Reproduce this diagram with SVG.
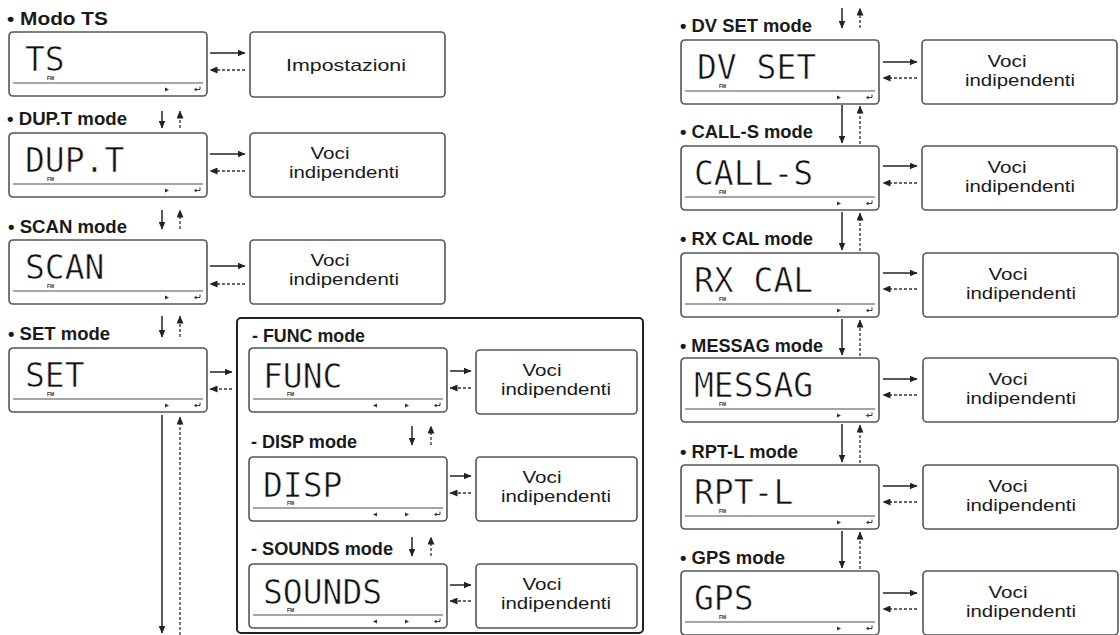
<svg xmlns="http://www.w3.org/2000/svg" width="1120" height="635" viewBox="0 0 1120 635">
<style>
.bg{fill:#fff}
.lcd{fill:#fff;stroke:#555;stroke-width:1.6}
.box{fill:#fff;stroke:#555;stroke-width:1.6}
.frame{fill:none;stroke:#222;stroke-width:2}
.sep{stroke:#888;stroke-width:1.3}
.seg{font-family:"DejaVu Sans Mono","Liberation Mono",monospace;font-size:33px;fill:#111;stroke:#fff;stroke-width:0.6}
.fm{font-family:"Liberation Sans",Arial,sans-serif;font-size:5px;font-weight:bold;fill:#333}
.ico{fill:#333}
.hook{fill:none;stroke:#333;stroke-width:1}
.lbl{font-family:"Liberation Sans",Arial,sans-serif;font-size:18px;font-weight:bold;fill:#1a1a1a}
.txt{font-family:"Liberation Sans",Arial,sans-serif;font-size:17px;fill:#1a1a1a;text-anchor:middle}
.sol{stroke:#222;stroke-width:1.5;fill:none;marker-end:url(#ah)}
.dsh{stroke:#333;stroke-width:1.3;fill:none;stroke-dasharray:3 2;marker-end:url(#ah)}
</style>
<defs>
<marker id="ah" markerUnits="userSpaceOnUse" markerWidth="8" markerHeight="7" refX="7.5" refY="3.5" orient="auto">
<path d="M0,0 L8,3.5 L0,7 z" fill="#222"/>
</marker>
<g id="lcdbase">
<rect class="lcd" x="0" y="0" width="198" height="64" rx="4"/>
<line class="sep" x1="4" y1="51" x2="194" y2="51"/>
<text class="fm" x="38" y="48">FM</text>
<polygon class="ico" points="156,55.5 160,57.5 156,59.5"/>
<path class="hook" d="M191,54.5 V57.5 H186.5"/>
<polygon class="ico" points="185,57.5 187.5,55.5 187.5,59.5"/>
</g>
<g id="lcdbase3">
<use href="#lcdbase"/>
<polygon class="ico" points="128,55.5 124,57.5 128,59.5"/>
</g>
</defs>
<rect class="bg" x="0" y="0" width="1120" height="635"/>

<!-- labels -->
<g id="labels">
<text class="lbl" x="7" y="25" textLength="101" lengthAdjust="spacingAndGlyphs">• Modo TS</text>
<text class="lbl" x="7" y="125" textLength="120" lengthAdjust="spacingAndGlyphs">• DUP.T mode</text>
<text class="lbl" x="8" y="233" textLength="119" lengthAdjust="spacingAndGlyphs">• SCAN mode</text>
<text class="lbl" x="8" y="340" textLength="102" lengthAdjust="spacingAndGlyphs">• SET mode</text>
<text class="lbl" x="252" y="342" textLength="113" lengthAdjust="spacingAndGlyphs">- FUNC mode</text>
<text class="lbl" x="251" y="448" textLength="106" lengthAdjust="spacingAndGlyphs">- DISP mode</text>
<text class="lbl" x="251" y="555" textLength="142" lengthAdjust="spacingAndGlyphs">- SOUNDS mode</text>
<text class="lbl" x="680" y="32" textLength="132" lengthAdjust="spacingAndGlyphs">• DV SET mode</text>
<text class="lbl" x="680" y="138" textLength="133" lengthAdjust="spacingAndGlyphs">• CALL-S mode</text>
<text class="lbl" x="680" y="245" textLength="133" lengthAdjust="spacingAndGlyphs">• RX CAL mode</text>
<text class="lbl" x="680" y="352" textLength="143" lengthAdjust="spacingAndGlyphs">• MESSAG mode</text>
<text class="lbl" x="680" y="458" textLength="118" lengthAdjust="spacingAndGlyphs">• RPT-L mode</text>
<text class="lbl" x="680" y="564" textLength="105" lengthAdjust="spacingAndGlyphs">• GPS mode</text>
</g>

<!-- SET sub-menu frame -->
<rect id="set-frame" class="frame" x="237" y="318" width="406" height="315" rx="4"/>

<!-- LCD nodes left -->
<g id="lcd-ts" transform="translate(9,32)"><use href="#lcdbase"/><text class="seg" x="16" y="39">TS</text></g>
<g id="lcd-dupt" transform="translate(9,133)"><use href="#lcdbase"/><text class="seg" x="16" y="39">DUP.T</text></g>
<g id="lcd-scan" transform="translate(9,240)"><use href="#lcdbase"/><text class="seg" x="16" y="39">SCAN</text></g>
<g id="lcd-set" transform="translate(9,348)"><use href="#lcdbase"/><text class="seg" x="16" y="39">SET</text></g>

<!-- LCD nodes in SET frame -->
<g id="lcd-func" transform="translate(249,348)"><use href="#lcdbase3"/><text class="seg" x="14" y="40">FUNC</text></g>
<g id="lcd-disp" transform="translate(249,457)"><use href="#lcdbase3"/><text class="seg" x="14" y="40">DISP</text></g>
<g id="lcd-sounds" transform="translate(249,564)"><use href="#lcdbase3"/><text class="seg" x="14" y="40">SOUNDS</text></g>

<!-- LCD nodes right -->
<g id="lcd-dvset" transform="translate(681,40)"><use href="#lcdbase"/><text class="seg" x="16" y="39">DV SET</text></g>
<g id="lcd-calls" transform="translate(681,146)"><use href="#lcdbase"/><text class="seg" x="13" y="39">CALL-S</text></g>
<g id="lcd-rxcal" transform="translate(681,253)"><use href="#lcdbase"/><text class="seg" x="13" y="39">RX CAL</text></g>
<g id="lcd-messag" transform="translate(681,358)"><use href="#lcdbase"/><text class="seg" x="13" y="39">MESSAG</text></g>
<g id="lcd-rptl" transform="translate(681,465)"><use href="#lcdbase"/><text class="seg" x="13" y="39">RPT-L</text></g>
<g id="lcd-gps" transform="translate(681,571)"><use href="#lcdbase"/><text class="seg" x="13" y="39">GPS</text></g>

<!-- Setting boxes -->
<g id="box-ts"><rect class="box" x="250" y="32" width="195" height="65" rx="4"/><text class="txt" x="346" y="71" textLength="120" lengthAdjust="spacingAndGlyphs">Impostazioni</text></g>
<g id="box-dupt"><rect class="box" x="250" y="133" width="195" height="64" rx="4"/><text class="txt" x="330" y="159" textLength="39" lengthAdjust="spacingAndGlyphs">Voci</text><text class="txt" x="344" y="178" textLength="110" lengthAdjust="spacingAndGlyphs">indipendenti</text></g>
<g id="box-scan"><rect class="box" x="250" y="240" width="195" height="64" rx="4"/><text class="txt" x="330" y="266" textLength="39" lengthAdjust="spacingAndGlyphs">Voci</text><text class="txt" x="344" y="285" textLength="110" lengthAdjust="spacingAndGlyphs">indipendenti</text></g>
<g id="box-func"><rect class="box" x="476" y="350" width="161" height="64" rx="4"/><text class="txt" x="542" y="376" textLength="39" lengthAdjust="spacingAndGlyphs">Voci</text><text class="txt" x="556" y="395" textLength="110" lengthAdjust="spacingAndGlyphs">indipendenti</text></g>
<g id="box-disp"><rect class="box" x="476" y="457" width="161" height="64" rx="4"/><text class="txt" x="542" y="483" textLength="39" lengthAdjust="spacingAndGlyphs">Voci</text><text class="txt" x="556" y="502" textLength="110" lengthAdjust="spacingAndGlyphs">indipendenti</text></g>
<g id="box-sounds"><rect class="box" x="476" y="564" width="161" height="64" rx="4"/><text class="txt" x="542" y="590" textLength="39" lengthAdjust="spacingAndGlyphs">Voci</text><text class="txt" x="556" y="609" textLength="110" lengthAdjust="spacingAndGlyphs">indipendenti</text></g>
<g id="box-dvset"><rect class="box" x="922" y="40" width="195" height="64" rx="4"/><text class="txt" x="1007" y="67" textLength="39" lengthAdjust="spacingAndGlyphs">Voci</text><text class="txt" x="1020" y="86" textLength="110" lengthAdjust="spacingAndGlyphs">indipendenti</text></g>
<g id="box-calls"><rect class="box" x="922" y="146" width="195" height="64" rx="4"/><text class="txt" x="1007" y="173" textLength="39" lengthAdjust="spacingAndGlyphs">Voci</text><text class="txt" x="1020" y="192" textLength="110" lengthAdjust="spacingAndGlyphs">indipendenti</text></g>
<g id="box-rxcal"><rect class="box" x="923" y="253" width="195" height="64" rx="4"/><text class="txt" x="1008" y="280" textLength="39" lengthAdjust="spacingAndGlyphs">Voci</text><text class="txt" x="1021" y="299" textLength="110" lengthAdjust="spacingAndGlyphs">indipendenti</text></g>
<g id="box-messag"><rect class="box" x="923" y="358" width="195" height="64" rx="4"/><text class="txt" x="1008" y="385" textLength="39" lengthAdjust="spacingAndGlyphs">Voci</text><text class="txt" x="1021" y="404" textLength="110" lengthAdjust="spacingAndGlyphs">indipendenti</text></g>
<g id="box-rptl"><rect class="box" x="923" y="465" width="195" height="64" rx="4"/><text class="txt" x="1008" y="492" textLength="39" lengthAdjust="spacingAndGlyphs">Voci</text><text class="txt" x="1021" y="511" textLength="110" lengthAdjust="spacingAndGlyphs">indipendenti</text></g>
<g id="box-gps"><rect class="box" x="923" y="571" width="195" height="64" rx="4"/><text class="txt" x="1008" y="598" textLength="39" lengthAdjust="spacingAndGlyphs">Voci</text><text class="txt" x="1021" y="617" textLength="110" lengthAdjust="spacingAndGlyphs">indipendenti</text></g>

<!-- connectors -->
<g id="connectors">
<line class="sol" x1="210" y1="53" x2="245" y2="53"/><line class="dsh" x1="245" y1="70" x2="210" y2="70"/>
<line class="sol" x1="210" y1="154" x2="245" y2="154"/><line class="dsh" x1="245" y1="171" x2="210" y2="171"/>
<line class="sol" x1="210" y1="266" x2="245" y2="266"/><line class="dsh" x1="245" y1="284" x2="210" y2="284"/>
<line class="sol" x1="210" y1="372" x2="232" y2="372"/><line class="dsh" x1="232" y1="389" x2="210" y2="389"/>
<line class="sol" x1="162" y1="111" x2="162" y2="128"/><line class="dsh" x1="180" y1="128" x2="180" y2="111"/>
<line class="sol" x1="162" y1="210" x2="162" y2="229"/><line class="dsh" x1="180" y1="229" x2="180" y2="210"/>
<line class="sol" x1="162" y1="316" x2="162" y2="337"/><line class="dsh" x1="180" y1="337" x2="180" y2="316"/>
<line class="sol" x1="162" y1="415" x2="162" y2="633"/><line class="dsh" x1="180" y1="635" x2="180" y2="417"/>
<line class="sol" x1="450" y1="371" x2="471" y2="371"/><line class="dsh" x1="471" y1="388" x2="450" y2="388"/>
<line class="sol" x1="450" y1="476" x2="471" y2="476"/><line class="dsh" x1="471" y1="493" x2="450" y2="493"/>
<line class="sol" x1="450" y1="585" x2="471" y2="585"/><line class="dsh" x1="471" y1="601" x2="450" y2="601"/>
<line class="sol" x1="412" y1="426" x2="412" y2="445"/><line class="dsh" x1="431" y1="445" x2="431" y2="426"/>
<line class="sol" x1="412" y1="537" x2="412" y2="556"/><line class="dsh" x1="431" y1="556" x2="431" y2="537"/>
<line class="sol" x1="883" y1="62" x2="917" y2="62"/><line class="dsh" x1="917" y1="78" x2="883" y2="78"/>
<line class="sol" x1="883" y1="166" x2="917" y2="166"/><line class="dsh" x1="917" y1="183" x2="883" y2="183"/>
<line class="sol" x1="883" y1="273" x2="917" y2="273"/><line class="dsh" x1="917" y1="289" x2="883" y2="289"/>
<line class="sol" x1="883" y1="379" x2="917" y2="379"/><line class="dsh" x1="917" y1="395" x2="883" y2="395"/>
<line class="sol" x1="883" y1="486" x2="917" y2="486"/><line class="dsh" x1="917" y1="502" x2="883" y2="502"/>
<line class="sol" x1="883" y1="593" x2="917" y2="593"/><line class="dsh" x1="917" y1="609" x2="883" y2="609"/>
<line class="sol" x1="842" y1="8" x2="842" y2="28"/><line class="dsh" x1="860" y1="28" x2="860" y2="8"/>
<line class="sol" x1="842" y1="105" x2="842" y2="143"/><line class="dsh" x1="860" y1="144" x2="860" y2="106"/>
<line class="sol" x1="842" y1="212" x2="842" y2="250"/><line class="dsh" x1="860" y1="251" x2="860" y2="213"/>
<line class="sol" x1="842" y1="319" x2="842" y2="355"/><line class="dsh" x1="860" y1="356" x2="860" y2="320"/>
<line class="sol" x1="842" y1="424" x2="842" y2="462"/><line class="dsh" x1="860" y1="463" x2="860" y2="425"/>
<line class="sol" x1="842" y1="531" x2="842" y2="568"/><line class="dsh" x1="860" y1="569" x2="860" y2="532"/>
</g>
</svg>
